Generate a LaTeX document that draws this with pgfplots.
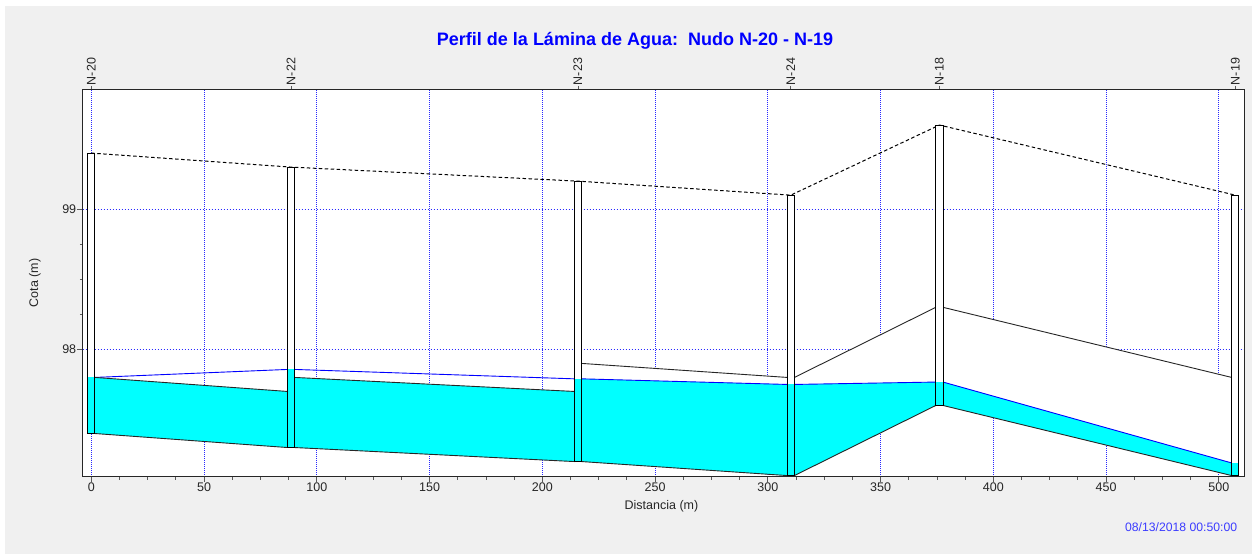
\documentclass[border=0pt]{standalone}
\usepackage{fontspec}
\setmainfont{Liberation Sans}
\usepackage{pgfplots}
\pgfplotsset{compat=1.18}

\definecolor{bg}{RGB}{240,240,240}
\definecolor{water}{RGB}{0,255,255}
\definecolor{gridblue}{RGB}{40,40,255}
\definecolor{titleblue}{RGB}{0,0,255}
\definecolor{dateblue}{RGB}{60,60,255}

\newcommand{\tfont}{\fontsize{12.5}{14}\selectfont}

\begin{document}
\begin{tikzpicture}[x=1pt,y=1pt]
\fill[white] (0,0) rectangle (1252,554);
\fill[bg] (5,0) rectangle (1252,548);

\begin{axis}[
  at={(82.7pt,77.3pt)}, anchor=south west,
  width=1162.3pt, height=387.4pt, scale only axis,
  xmin=-3.8, xmax=511.6, ymin=97.092, ymax=99.855,
  axis background/.style={fill=white},
  xtick={0,50,...,500}, ytick={98,99},
  minor x tick num=3, minor y tick num=3,
  xtick pos=lower, ytick pos=left,
  tick align=outside, major tick length=5.3pt, minor tick length=2.8pt,
  xmajorgrids=true, ymajorgrids=true,
  x grid style={draw=gridblue, line width=0.8pt, dash pattern=on 1pt off 1pt},
  y grid style={draw=gridblue, line width=1pt, dash pattern=on 1.5pt off 1.5pt},
  axis line style={black!85, line width=1pt},
  tick style={black!65, line width=0.8pt},
  ticklabel style={font=\tfont, text=black!85},
  xticklabel style={inner sep=1pt},
  yticklabel style={inner sep=1pt},
  /pgf/number format/assume math mode=true,
  clip=true,
]
% pipe interiors (white)
\addplot[fill=white, draw=none] coordinates {(1.6,97.40) (87.0,97.30) (87.0,97.70) (1.6,97.80)} -- cycle;
\addplot[fill=white, draw=none] coordinates {(90.2,97.30) (214.2,97.20) (214.2,97.70) (90.2,97.80)} -- cycle;
\addplot[fill=white, draw=none] coordinates {(217.4,97.20) (308.6,97.10) (308.6,97.80) (217.4,97.90)} -- cycle;
\addplot[fill=white, draw=none] coordinates {(311.8,97.10) (374.5,97.60) (374.5,98.30) (311.8,97.80)} -- cycle;
\addplot[fill=white, draw=none] coordinates {(377.7,97.60) (505.7,97.10) (505.7,97.80) (377.7,98.30)} -- cycle;
% water in pipes
\addplot[fill=water, draw=none] coordinates {(1.6,97.40) (87.0,97.30) (87.0,97.70) (1.6,97.80)} -- cycle;
\addplot[fill=water, draw=none] coordinates {(90.2,97.30) (214.2,97.20) (214.2,97.70) (90.2,97.80)} -- cycle;
\addplot[fill=water, draw=none] coordinates {(217.4,97.20) (308.6,97.10) (308.6,97.75) (217.4,97.79)} -- cycle;
\addplot[fill=water, draw=none] coordinates {(311.8,97.10) (374.5,97.60) (374.5,97.767) (311.8,97.75)} -- cycle;
\addplot[fill=water, draw=none] coordinates {(377.7,97.60) (505.7,97.10) (505.7,97.19) (377.7,97.767)} -- cycle;
% hydraulic grade line
\addplot[blue, line width=0.9pt] coordinates {(1.6,97.80) (87.0,97.857)};
\addplot[blue, line width=0.9pt] coordinates {(90.2,97.857) (214.2,97.79)};
\addplot[blue, line width=0.9pt] coordinates {(217.4,97.79) (308.6,97.75)};
\addplot[blue, line width=0.9pt] coordinates {(311.8,97.75) (374.5,97.767)};
\addplot[blue, line width=0.9pt] coordinates {(377.7,97.767) (505.7,97.19)};
% crowns
\addplot[black!85, line width=0.9pt] coordinates {(1.6,97.80) (87.0,97.70)};
\addplot[black!85, line width=0.9pt] coordinates {(90.2,97.80) (214.2,97.70)};
\addplot[black!85, line width=0.9pt] coordinates {(217.4,97.90) (308.6,97.80)};
\addplot[black!85, line width=0.9pt] coordinates {(311.8,97.80) (374.5,98.30)};
\addplot[black!85, line width=0.9pt] coordinates {(377.7,98.30) (505.7,97.80)};
% inverts
\addplot[black!85, line width=0.9pt] coordinates {(1.6,97.40) (87.0,97.30)};
\addplot[black!85, line width=0.9pt] coordinates {(90.2,97.30) (214.2,97.20)};
\addplot[black!85, line width=0.9pt] coordinates {(217.4,97.20) (308.6,97.10)};
\addplot[black!85, line width=0.9pt] coordinates {(311.8,97.10) (374.5,97.60)};
\addplot[black!85, line width=0.9pt] coordinates {(377.7,97.60) (505.7,97.10)};
% ground line
\addplot[black, line width=1pt, dash pattern=on 3.5pt off 2.5pt] coordinates {(0,99.40) (88.6,99.30) (215.8,99.20) (310.2,99.10) (376.1,99.60) (507.3,99.10)};
% node boxes: empty part
\addplot[fill=white, draw=none] coordinates {(-1.6,97.80) (1.6,97.80) (1.6,99.40) (-1.6,99.40)} -- cycle;
\addplot[fill=white, draw=none] coordinates {(87.0,97.857) (90.2,97.857) (90.2,99.30) (87.0,99.30)} -- cycle;
\addplot[fill=white, draw=none] coordinates {(214.2,97.79) (217.4,97.79) (217.4,99.20) (214.2,99.20)} -- cycle;
\addplot[fill=white, draw=none] coordinates {(308.6,97.75) (311.8,97.75) (311.8,99.10) (308.6,99.10)} -- cycle;
\addplot[fill=white, draw=none] coordinates {(374.5,97.767) (377.7,97.767) (377.7,99.60) (374.5,99.60)} -- cycle;
\addplot[fill=white, draw=none] coordinates {(505.7,97.19) (508.9,97.19) (508.9,99.10) (505.7,99.10)} -- cycle;
% node boxes: water part
\addplot[fill=water, draw=none] coordinates {(-1.6,97.40) (1.6,97.40) (1.6,97.80) (-1.6,97.80)} -- cycle;
\addplot[fill=water, draw=none] coordinates {(87.0,97.30) (90.2,97.30) (90.2,97.857) (87.0,97.857)} -- cycle;
\addplot[fill=water, draw=none] coordinates {(214.2,97.20) (217.4,97.20) (217.4,97.79) (214.2,97.79)} -- cycle;
\addplot[fill=water, draw=none] coordinates {(308.6,97.10) (311.8,97.10) (311.8,97.75) (308.6,97.75)} -- cycle;
\addplot[fill=water, draw=none] coordinates {(374.5,97.60) (377.7,97.60) (377.7,97.767) (374.5,97.767)} -- cycle;
\addplot[fill=water, draw=none] coordinates {(505.7,97.10) (508.9,97.10) (508.9,97.19) (505.7,97.19)} -- cycle;
% node boxes: outline
\addplot[draw=black, line width=1pt] coordinates {(-1.6,97.40) (1.6,97.40) (1.6,99.40) (-1.6,99.40)} -- cycle;
\addplot[draw=black, line width=1pt] coordinates {(87.0,97.30) (90.2,97.30) (90.2,99.30) (87.0,99.30)} -- cycle;
\addplot[draw=black, line width=1pt] coordinates {(214.2,97.20) (217.4,97.20) (217.4,99.20) (214.2,99.20)} -- cycle;
\addplot[draw=black, line width=1pt] coordinates {(308.6,97.10) (311.8,97.10) (311.8,99.10) (308.6,99.10)} -- cycle;
\addplot[draw=black, line width=1pt] coordinates {(374.5,97.60) (377.7,97.60) (377.7,99.60) (374.5,99.60)} -- cycle;
\addplot[draw=black, line width=1pt] coordinates {(505.7,97.10) (508.9,97.10) (508.9,99.10) (505.7,99.10)} -- cycle;
\end{axis}

\begin{axis}[
  at={(82.7pt,77.3pt)}, anchor=south west,
  width=1162.3pt, height=387.4pt, scale only axis,
  xmin=-3.8, xmax=511.6, ymin=0, ymax=1,
  axis x line*=top, axis y line=none,
  xtick={0,88.6,215.8,310.2,376.1,507.3},
  xticklabels={N-20,N-22,N-23,N-24,N-18,N-19},
  minor x tick num=0,
  tick align=outside, major tick length=3.5pt,
  axis line style={black!85, line width=1pt},
  tick style={black!65, line width=0.8pt},
  xticklabel style={rotate=90, anchor=west, inner sep=0.5pt, font=\tfont, text=black!85},
]
\end{axis}

\node[anchor=base, text=titleblue, font=\bfseries\fontsize{18}{21}\selectfont] at (635,508.3) {Perfil de la Lámina de Agua:\ \ Nudo N-20 - N-19};
\node[rotate=90, font=\tfont, text=black!85] at (35,271) {Cota (m)};
\node[font=\tfont, text=black!85] at (661.5,48) {Distancia (m)};
\node[anchor=base east, inner sep=0pt, font=\fontsize{12.2}{14}\selectfont, text=dateblue] at (1237.3,23) {08/13/2018 00:50:00};
\end{tikzpicture}
\end{document}
